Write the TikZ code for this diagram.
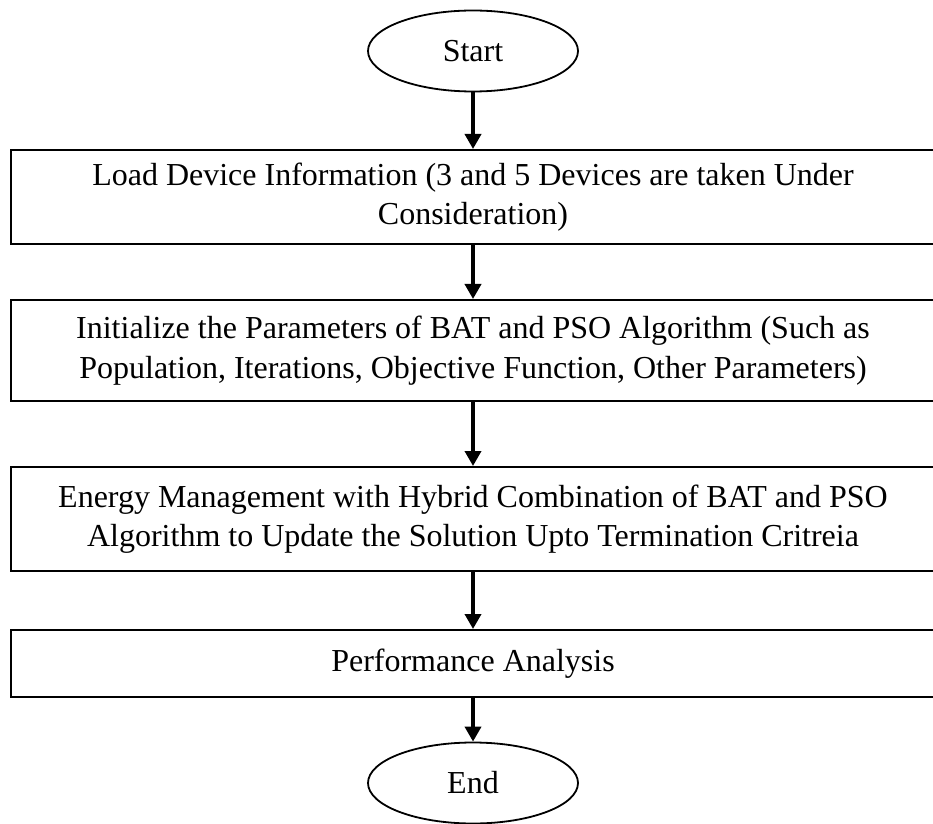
\documentclass[tikz,border=0pt]{standalone}
\usepackage{fontspec}
\setmainfont{Liberation Serif}
\usetikzlibrary{shapes.geometric,arrows.meta}

\begin{document}
\begin{tikzpicture}[x=1pt,y=1pt,term/.style={ellipse,draw=black,line width=1.8pt,minimum width=210pt,minimum height=81pt,inner sep=0pt},proc/.style={rectangle,draw=black,line width=2pt,minimum width=924pt,inner sep=0pt,align=center},flow/.style={-{Triangle[width=16pt,length=15pt]},line width=3.6pt},every node/.style={font=\fontsize{32}{39.5}\selectfont}]
        \useasboundingbox (0,0) rectangle (933,823);
        \node[term] (start) at (473,772) {Start};
        \node[proc,minimum height=94pt] (load) at (473,626)
        {Load Device Information (3 and 5 Devices are taken Under\\Consideration)};
        \node[proc,minimum height=101pt] (init) at (473,472.5)
        {Initialize the Parameters of BAT and PSO Algorithm (Such as\\Population, Iterations, Objective Function, Other Parameters)};
        \node[proc,minimum height=104pt] (energy) at (473,304)
        {Energy Management with Hybrid Combination of BAT and PSO\\Algorithm to Update the Solution Upto Termination Critreia};
        \node[proc,minimum height=67pt] (perf) at (473,159.5) {Performance Analysis};
        \node[term] (stop) at (473,40) {End};

        \draw[flow] (start) -- (load);
        \draw[flow] (load) -- (init);
        \draw[flow] (init) -- (energy);
        \draw[flow] (energy) -- (perf);
        \draw[flow] (perf) -- (stop);
    \end{tikzpicture}
\end{document}
